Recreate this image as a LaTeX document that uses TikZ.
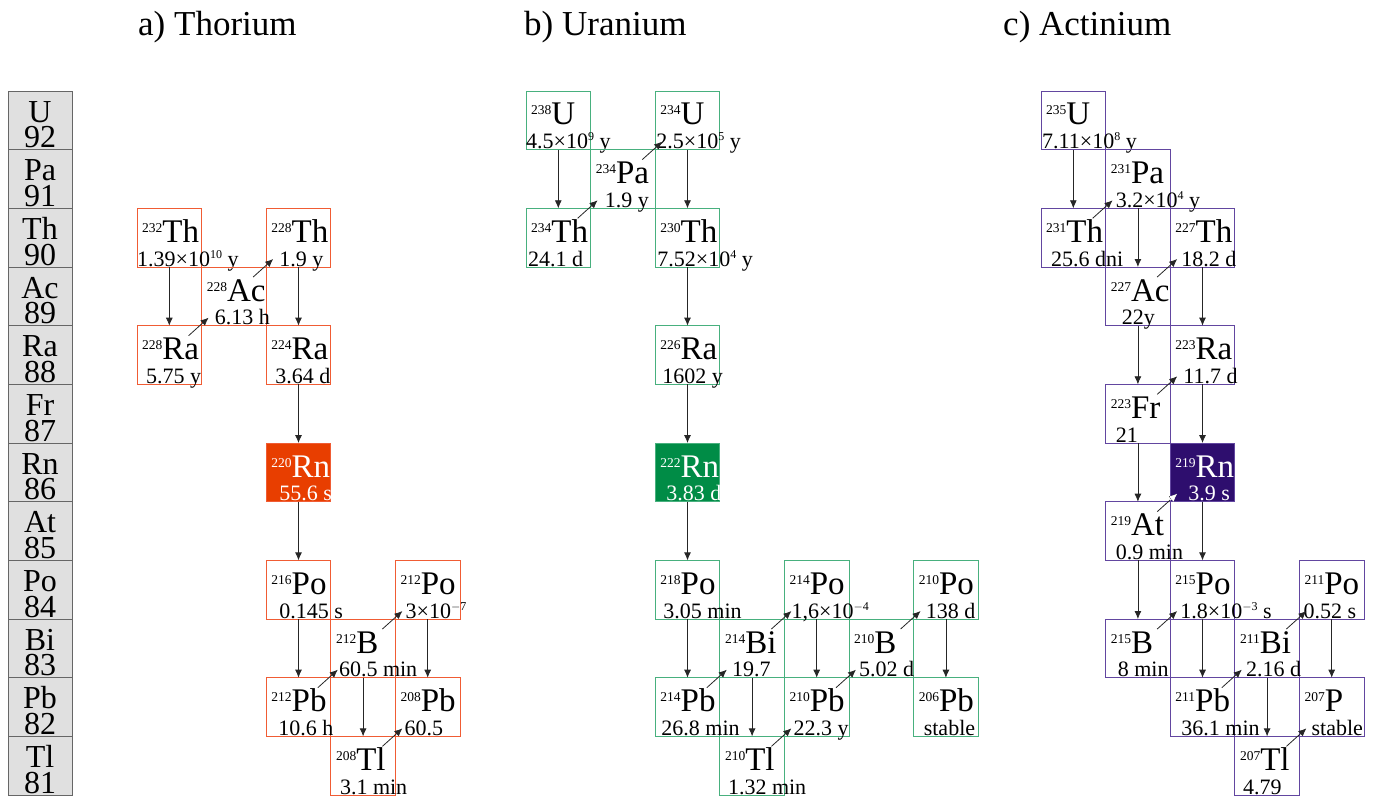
\documentclass[tikz,border=0pt]{standalone}
\usepackage{fontspec}
\setmainfont{Liberation Serif}
\usetikzlibrary{arrows.meta}
\definecolor{thline}{RGB}{240,92,52}
\definecolor{thfill}{RGB}{232,62,0}
\definecolor{uline}{RGB}{72,176,126}
\definecolor{ufill}{RGB}{0,140,70}
\definecolor{acline}{RGB}{98,70,160}
\definecolor{acfill}{RGB}{46,14,110}
\definecolor{zgray}{RGB}{224,224,224}
% mass number and exponent
\newcommand{\ms}[1]{\raisebox{10pt}{\fontsize{13.5}{13.5}\selectfont #1}}
\newcommand{\ex}[1]{\raisebox{8pt}{\fontsize{12}{12}\selectfont #1}}
% [indent]{name}{col}{row}{A}{symbol}{half-life}
\newcommand{\nuc}[7][10]{%
  \node[cell] (#2) at ({\xo+64.6*#3+32.3},{120.33+58.67*#4}) {};
  \node[symtxt] (#2s) at ([xshift=5pt,yshift=-34pt]#2.north west) {\ms{#5}#6};
  \node[hltxt] (#2h) at ([xshift=#1pt,yshift=1pt]#2.south west) {#7};
}
\newcommand{\gasnuc}[7][10]{%
  \node[gas] (#2) at ({\xo+64.6*#3+32.3},{120.33+58.67*#4}) {};
  \node[symtxt,text=white] (#2s) at ([xshift=5pt,yshift=-34pt]#2.north west) {\ms{#5}#6};
  \node[hltxt,text=white] (#2h) at ([xshift=#1pt,yshift=1pt]#2.south west) {#7};
}
\newcommand{\alphad}[2]{\draw[decay] (#1.south) -- (#2.north);}
\newcommand{\betad}[2]{\draw[decay] ([shift={(-13pt,-10pt)}]#1.north east) -- ([shift={(7pt,8pt)}]#2.south west);}

\begin{document}
\begin{tikzpicture}[x=1pt,y=-1pt,
  cell/.style={draw=chainline,line width=0.9pt,minimum width=64.6pt,minimum height=58.67pt,inner sep=0pt,outer sep=0pt},
  gas/.style={cell,fill=chainfill},
  symtxt/.style={anchor=base west,inner sep=0pt,font=\fontsize{33}{33}\selectfont},
  hltxt/.style={anchor=base west,inner sep=0pt,font=\fontsize{22}{22}\selectfont},
  decay/.style={-{Latex[length=8pt,width=7pt]},black!85,line width=0.8pt},
  zbox/.style={draw=black!60,fill=zgray,line width=0.9pt,minimum width=64pt,minimum height=58.67pt,inner sep=0pt},
  ztxt/.style={anchor=base,inner sep=0pt,font=\fontsize{32}{32}\selectfont},
  title/.style={anchor=base west,inner sep=0pt,font=\fontsize{35}{35}\selectfont}]
\useasboundingbox (0,0) rectangle (1378,799);

% element column
\foreach \el/\z [count=\r from 0] in {U/92,Pa/91,Th/90,Ac/89,Ra/88,Fr/87,Rn/86,At/85,Po/84,Bi/83,Pb/82,Tl/81}{
  \node[zbox] (z\z) at (40,{120.33+58.67*\r}) {};
  \node[ztxt,text depth=0pt] (el\z) at ([yshift=-31.5pt]z\z.north) {\el};
  \node[ztxt,text height=21pt] (zn\z) at ([yshift=-57.3pt]z\z.north) {\z};
}

\node[title] (ttl-a) at (138,36) {a) Thorium};
\node[title] (ttl-b) at (524,36) {b) Uranium};
\node[title] (ttl-c) at (1003,36) {c) Actinium};

% a) thorium series
\begin{scope}
\def\xo{137}
\colorlet{chainline}{thline}\colorlet{chainfill}{thfill}
\nuc[0]{aTh232}{0}{2}{232}{Th}{1.39×10\ex{10} y}
\nuc[9]{aRa228}{0}{4}{228}{Ra}{5.75 y}
\nuc[13]{aAc228}{1}{3}{228}{Ac}{6.13 h}
\nuc[13]{aTh228}{2}{2}{228}{Th}{1.9 y}
\nuc[9]{aRa224}{2}{4}{224}{Ra}{3.64 d}
\gasnuc[13]{aRn220}{2}{6}{220}{Rn}{55.6 s}
\nuc[13]{aPo216}{2}{8}{216}{Po}{0.145 s}
\nuc[12]{aPb212}{2}{10}{212}{Pb}{10.6 h}
\nuc[8]{aBi212}{3}{9}{212}{B}{60.5 min}
\nuc[10]{aPo212}{4}{8}{212}{Po}{3×10\ex{$-$7}}
\nuc[9]{aTl208}{3}{11}{208}{Tl}{3.1 min}
\nuc[9]{aPb208}{4}{10}{208}{Pb}{60.5}
\alphad{aTh232}{aRa228}
\betad{aRa228}{aAc228}
\betad{aAc228}{aTh228}
\alphad{aTh228}{aRa224}
\alphad{aRa224}{aRn220}
\alphad{aRn220}{aPo216}
\alphad{aPo216}{aPb212}
\betad{aPb212}{aBi212}
\betad{aBi212}{aPo212}
\alphad{aPo212}{aPb208}
\alphad{aBi212}{aTl208}
\betad{aTl208}{aPb208}
\end{scope}

% b) uranium series
\begin{scope}
\def\xo{526}
\colorlet{chainline}{uline}\colorlet{chainfill}{ufill}
\nuc[0]{bU238}{0}{0}{238}{U}{4.5×10\ex{9} y}
\nuc[2]{bTh234}{0}{2}{234}{Th}{24.1 d}
\nuc[14]{bPa234}{1}{1}{234}{Pa}{1.9 y}
\nuc[1]{bU234}{2}{0}{234}{U}{2.5×10\ex{5} y}
\nuc[2]{bTh230}{2}{2}{230}{Th}{7.52×10\ex{4} y}
\nuc[7]{bRa226}{2}{4}{226}{Ra}{1602 y}
\gasnuc[11]{bRn222}{2}{6}{222}{Rn}{3.83 d}
\nuc[8]{bPo218}{2}{8}{218}{Po}{3.05 min}
\nuc[6]{bPb214}{2}{10}{214}{Pb}{26.8 min}
\nuc[12]{bBi214}{3}{9}{214}{Bi}{19.7}
\nuc[7]{bPo214}{4}{8}{214}{Po}{1,6×10\ex{$-$4}}
\nuc[8]{bTl210}{3}{11}{210}{Tl}{1.32 min}
\nuc[9]{bPb210}{4}{10}{210}{Pb}{22.3 y}
\nuc[10]{bBi210}{5}{9}{210}{B}{5.02 d}
\nuc[12]{bPo210}{6}{8}{210}{Po}{138 d}
\nuc[10]{bPb206}{6}{10}{206}{Pb}{stable}
\alphad{bU238}{bTh234}
\betad{bTh234}{bPa234}
\betad{bPa234}{bU234}
\alphad{bU234}{bTh230}
\alphad{bTh230}{bRa226}
\alphad{bRa226}{bRn222}
\alphad{bRn222}{bPo218}
\alphad{bPo218}{bPb214}
\betad{bPb214}{bBi214}
\betad{bBi214}{bPo214}
\alphad{bPo214}{bPb210}
\alphad{bBi214}{bTl210}
\betad{bTl210}{bPb210}
\betad{bPb210}{bBi210}
\betad{bBi210}{bPo210}
\alphad{bPo210}{bPb206}
\end{scope}

% c) actinium series
\begin{scope}
\def\xo{1041}
\colorlet{chainline}{acline}\colorlet{chainfill}{acfill}
\nuc[1]{cU235}{0}{0}{235}{U}{7.11×10\ex{8} y}
\nuc[10]{cTh231}{0}{2}{231}{Th}{25.6 dni}
\nuc[10]{cPa231}{1}{1}{231}{Pa}{3.2×10\ex{4} y}
\nuc[11]{cTh227}{2}{2}{227}{Th}{18.2 d}
\nuc[16]{cAc227}{1}{3}{227}{Ac}{22y}
\nuc[13]{cRa223}{2}{4}{223}{Ra}{11.7 d}
\nuc[10]{cFr223}{1}{5}{223}{Fr}{21}
\gasnuc[18]{cRn219}{2}{6}{219}{Rn}{3.9 s}
\nuc[10]{cAt219}{1}{7}{219}{At}{0.9 min}
\nuc[10]{cPo215}{2}{8}{215}{Po}{1.8×10\ex{$-$3} s}
\nuc[12]{cBi215}{1}{9}{215}{B}{8 min}
\nuc[4]{cPo211}{4}{8}{211}{Po}{0.52 s}
\nuc[11]{cPb211}{2}{10}{211}{Pb}{36.1 min}
\nuc[11]{cBi211}{3}{9}{211}{Bi}{2.16 d}
\nuc[12]{cPb207}{4}{10}{207}{P}{stable}
\nuc[8]{cTl207}{3}{11}{207}{Tl}{4.79}
\alphad{cU235}{cTh231}
\betad{cTh231}{cPa231}
\alphad{cPa231}{cAc227}
\betad{cAc227}{cTh227}
\alphad{cTh227}{cRa223}
\alphad{cAc227}{cFr223}
\betad{cFr223}{cRa223}
\alphad{cRa223}{cRn219}
\alphad{cFr223}{cAt219}
\betad{cAt219}{cRn219}
\begin{scope}
\clip (cRn219.south west) rectangle (cRn219.north east);
\draw[decay,white] ([shift={(-13pt,-10pt)}]cAt219.north east) -- ([shift={(7pt,8pt)}]cRn219.south west);
\end{scope}
\alphad{cRn219}{cPo215}
\alphad{cAt219}{cBi215}
\betad{cBi215}{cPo215}
\alphad{cPo215}{cPb211}
\betad{cPb211}{cBi211}
\betad{cBi211}{cPo211}
\alphad{cBi211}{cTl207}
\alphad{cPo211}{cPb207}
\betad{cTl207}{cPb207}
\end{scope}
\end{tikzpicture}
\end{document}
